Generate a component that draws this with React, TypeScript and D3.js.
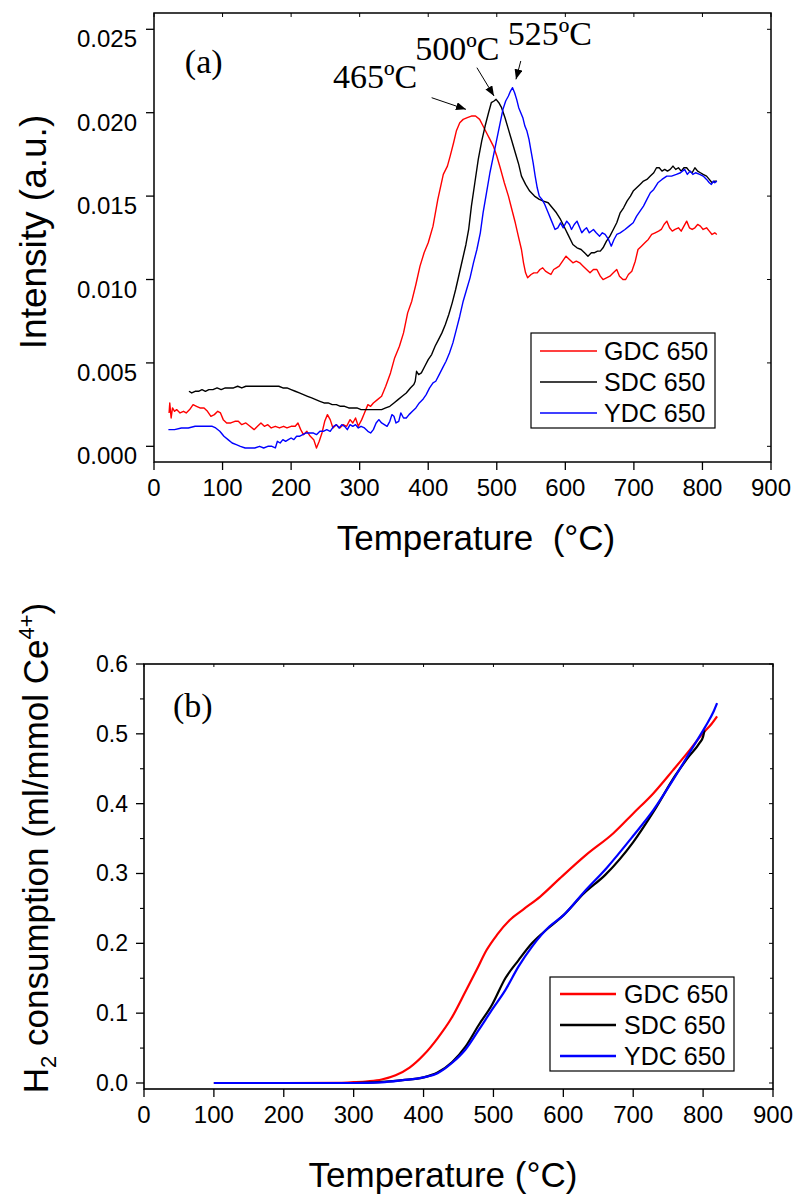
import React from "react";
import * as d3 from "d3";

// ---- data: (a) TPR intensity ----
const gdcTpr: [number, number][] = [
  [22,0.0020],[23,0.0026],[25,0.0017],[27,0.0023],[30,0.0021],[33,0.0022],[38,0.0020],[43,0.0021],[47,0.0020],[52,0.0022],[57,0.0025],[62,0.0024],[67,0.0023],[73,0.0023],[78,0.0021],[83,0.0018],[88,0.0019],[93,0.0021],[97,0.0020],[101,0.0016],[106,0.0014],[112,0.0014],[118,0.0015],[123,0.0015],[128,0.0013],[134,0.0014],[140,0.0012],[146,0.0010],[151,0.0012],[156,0.0014],[161,0.0012],[166,0.0013],[171,0.0011],[177,0.0012],[183,0.0011],[189,0.0012],[194,0.0011],[200,0.0012],[206,0.0012],[210,0.0014],[214,0.0010],[218,0.0007],[223,0.0009],[228,0.0006],[233,0.0004],[237,-0.0001],[241,0.0003],[245,0.0008],[249,0.0015],[253,0.0019],[257,0.0016],[261,0.0011],[266,0.0013],[271,0.0011],[276,0.0013],[281,0.0012],[286,0.0016],[290,0.0014],[294,0.0017],[298,0.0012],[303,0.0016],[307,0.0020],[312,0.0025],[316,0.0024],[320,0.0026],[326,0.0028],[332,0.0030],[338,0.0036],[345,0.0044],[351,0.0053],[358,0.0060],[364,0.0068],[370,0.0080],[376,0.0087],[382,0.0097],[388,0.0108],[394,0.0116],[400,0.0122],[407,0.0132],[414,0.0148],[422,0.0163],[428,0.0168],[432,0.0174],[437,0.0182],[441,0.0189],[446,0.0194],[451,0.0196],[457,0.0197],[463,0.0198],[469,0.0198],[475,0.0196],[480,0.0192],[485,0.0188],[490,0.0184],[495,0.0180],[500,0.0174],[505,0.0167],[511,0.0158],[517,0.0150],[522,0.0142],[527,0.0134],[532,0.0125],[536,0.0118],[539,0.0110],[542,0.0104],[545,0.0101],[550,0.0103],[554,0.0104],[559,0.0104],[563,0.0106],[567,0.0107],[571,0.0105],[575,0.0104],[579,0.0103],[583,0.0106],[587,0.0107],[591,0.0108],[596,0.0111],[601,0.0114],[606,0.0112],[611,0.0110],[616,0.0111],[621,0.0110],[626,0.0108],[631,0.0106],[636,0.0104],[641,0.0106],[646,0.0106],[651,0.0102],[655,0.0100],[660,0.0101],[665,0.0102],[670,0.0104],[675,0.0106],[679,0.0102],[684,0.0100],[688,0.0100],[692,0.0103],[697,0.0105],[702,0.0111],[706,0.0118],[711,0.0120],[716,0.0122],[721,0.0124],[726,0.0127],[731,0.0128],[736,0.0129],[740,0.0130],[744,0.0133],[748,0.0135],[752,0.0131],[756,0.0129],[760,0.0130],[765,0.0131],[769,0.0129],[773,0.0132],[777,0.0135],[781,0.0131],[785,0.0130],[789,0.0131],[793,0.0133],[797,0.0132],[801,0.0130],[806,0.0131],[810,0.0129],[814,0.0127],[818,0.0128],[821,0.0127],
];

const sdcTpr: [number, number][] = [
  [51,0.0033],[55,0.0032],[60,0.0033],[65,0.0033],[70,0.0034],[75,0.0033],[80,0.0034],[86,0.0034],[92,0.0035],[98,0.0034],[104,0.0035],[110,0.0035],[116,0.0035],[122,0.0036],[128,0.0035],[134,0.0036],[140,0.0036],[146,0.0036],[152,0.0036],[158,0.0036],[164,0.0036],[170,0.0036],[176,0.0036],[182,0.0036],[188,0.0035],[194,0.0035],[200,0.0034],[206,0.0033],[212,0.0032],[218,0.0031],[224,0.0030],[230,0.0029],[236,0.0028],[242,0.0027],[248,0.0026],[254,0.0026],[260,0.0025],[266,0.0025],[272,0.0024],[278,0.0024],[284,0.0023],[290,0.0023],[296,0.0023],[302,0.0022],[308,0.0022],[314,0.0022],[320,0.0022],[326,0.0022],[332,0.0022],[338,0.0023],[344,0.0024],[350,0.0026],[356,0.0028],[362,0.0030],[368,0.0032],[374,0.0035],[379,0.0037],[381,0.0039],[383,0.0045],[386,0.0043],[390,0.0044],[395,0.0048],[400,0.0052],[405,0.0055],[410,0.0060],[415,0.0064],[420,0.0068],[425,0.0073],[430,0.0079],[435,0.0086],[440,0.0094],[445,0.0103],[450,0.0112],[455,0.0121],[459,0.0130],[463,0.0144],[468,0.0158],[473,0.0172],[478,0.0183],[483,0.0192],[488,0.0200],[492,0.0206],[496,0.0207],[499,0.0208],[503,0.0206],[507,0.0203],[512,0.0197],[517,0.0190],[522,0.0183],[527,0.0176],[532,0.0169],[536,0.0162],[542,0.0157],[548,0.0153],[555,0.0150],[562,0.0148],[568,0.0147],[575,0.0146],[581,0.0143],[587,0.0140],[593,0.0136],[599,0.0131],[605,0.0126],[611,0.0121],[617,0.0119],[623,0.0118],[628,0.0116],[633,0.0114],[638,0.0116],[642,0.0116],[647,0.0117],[651,0.0117],[655,0.0119],[660,0.0123],[665,0.0126],[670,0.0130],[675,0.0134],[680,0.0140],[685,0.0143],[690,0.0147],[695,0.0150],[699,0.0153],[704,0.0155],[709,0.0157],[714,0.0159],[719,0.0160],[724,0.0162],[729,0.0164],[733,0.0167],[737,0.0167],[741,0.0165],[745,0.0166],[749,0.0165],[753,0.0166],[757,0.0168],[761,0.0166],[765,0.0167],[769,0.0165],[773,0.0167],[777,0.0167],[781,0.0165],[785,0.0164],[789,0.0167],[793,0.0165],[797,0.0164],[801,0.0163],[806,0.0162],[810,0.0160],[814,0.0158],[818,0.0159],[821,0.0159],
];

const ydcTpr: [number, number][] = [
  [21,0.0010],[30,0.0010],[40,0.0011],[50,0.0011],[60,0.0012],[70,0.0012],[79,0.0012],[85,0.0012],[90,0.0011],[96,0.0009],[102,0.0006],[108,0.0004],[114,0.0002],[120,0.0001],[126,0.0000],[133,-0.0001],[140,-0.0001],[147,-0.0001],[154,0.0000],[160,-0.0001],[166,0.0000],[172,0.0000],[177,-0.0001],[180,0.0003],[184,0.0002],[188,0.0004],[192,0.0003],[196,0.0004],[200,0.0005],[204,0.0004],[208,0.0006],[212,0.0006],[217,0.0007],[222,0.0008],[227,0.0008],[232,0.0008],[237,0.0007],[242,0.0009],[247,0.0009],[252,0.0010],[257,0.0009],[262,0.0012],[266,0.0013],[270,0.0011],[274,0.0013],[278,0.0012],[282,0.0010],[286,0.0013],[290,0.0012],[294,0.0013],[298,0.0011],[302,0.0012],[307,0.0011],[312,0.0009],[316,0.0008],[320,0.0010],[324,0.0014],[328,0.0016],[332,0.0014],[336,0.0013],[340,0.0012],[344,0.0015],[347,0.0019],[350,0.0018],[353,0.0014],[357,0.0015],[360,0.0020],[364,0.0017],[368,0.0017],[372,0.0019],[377,0.0021],[382,0.0023],[387,0.0026],[392,0.0028],[397,0.0031],[402,0.0035],[407,0.0038],[411,0.0039],[416,0.0043],[421,0.0047],[426,0.0051],[431,0.0056],[436,0.0062],[441,0.0070],[446,0.0078],[451,0.0087],[456,0.0094],[461,0.0101],[466,0.0110],[471,0.0118],[476,0.0128],[480,0.0140],[485,0.0152],[490,0.0164],[495,0.0174],[500,0.0184],[505,0.0194],[509,0.0202],[513,0.0207],[517,0.0210],[520,0.0213],[523,0.0215],[526,0.0212],[529,0.0208],[532,0.0203],[535,0.0200],[538,0.0197],[541,0.0192],[544,0.0189],[547,0.0184],[550,0.0177],[553,0.0170],[556,0.0162],[559,0.0155],[562,0.0150],[566,0.0148],[570,0.0145],[575,0.0140],[580,0.0135],[585,0.0130],[589,0.0131],[593,0.0134],[597,0.0131],[602,0.0135],[606,0.0133],[609,0.0130],[613,0.0133],[617,0.0135],[621,0.0131],[624,0.0128],[628,0.0130],[631,0.0131],[635,0.0128],[641,0.0130],[645,0.0128],[650,0.0126],[654,0.0128],[658,0.0127],[663,0.0124],[667,0.0120],[671,0.0124],[675,0.0127],[680,0.0128],[687,0.0130],[693,0.0132],[699,0.0134],[704,0.0138],[709,0.0141],[714,0.0144],[719,0.0148],[724,0.0152],[729,0.0154],[735,0.0158],[741,0.0160],[748,0.0162],[755,0.0162],[762,0.0163],[768,0.0164],[774,0.0166],[778,0.0163],[782,0.0165],[786,0.0163],[790,0.0164],[796,0.0163],[801,0.0162],[806,0.0160],[810,0.0158],[813,0.0157],[816,0.0159],[818,0.0158],[821,0.0159],
];

// ---- data: (b) cumulative H2 consumption ----
const gdcH2: [number, number][] = [
  [100,0],[200,0],[280,0.0003],[300,0.0012],[320,0.0025],[340,0.005],[360,0.011],[380,0.022],[400,0.040],[420,0.064],[440,0.093],[460,0.131],[476,0.162],[490,0.190],[505,0.212],[523,0.233],[542,0.248],[567,0.267],[595,0.293],[633,0.327],[672,0.358],[700,0.386],[729,0.415],[757,0.448],[781,0.477],[800,0.501],[812,0.514],[820,0.525],
];
const sdcH2: [number, number][] = [
  [100,0],[200,0],[300,0],[340,0.0015],[370,0.004],[400,0.008],[420,0.015],[441,0.030],[460,0.052],[479,0.083],[498,0.112],[517,0.150],[536,0.176],[555,0.200],[580,0.223],[600,0.240],[630,0.272],[660,0.298],[700,0.345],[730,0.390],[760,0.440],[780,0.468],[795,0.487],[800,0.496],[802,0.505],
];
const ydcH2: [number, number][] = [
  [100,0],[200,0],[300,0],[340,0.001],[370,0.004],[400,0.008],[420,0.014],[441,0.029],[460,0.048],[479,0.076],[498,0.105],[517,0.133],[536,0.167],[555,0.195],[580,0.224],[600,0.240],[630,0.274],[662,0.308],[700,0.354],[729,0.391],[757,0.434],[786,0.482],[803,0.510],[815,0.532],[820,0.544],
];

const sampleNames = ["GDC 650", "SDC 650", "YDC 650"];
const sampleColors = ["#ff0000", "#000000", "#0000ff"];
const tempTicks = d3.range(0, 901, 100);
const intensityTicks = [0, 0.005, 0.01, 0.015, 0.02, 0.025];
const h2Ticks = [0, 0.1, 0.2, 0.3, 0.4, 0.5, 0.6];
const h2Minor = [0.05, 0.15, 0.25, 0.35, 0.45, 0.55];

// peak labels: [text, textT, textY, arrowFromT, arrowFromY, arrowToT, arrowToY]
const peakNotes: [string, number, number, number, number, number, number][] = [
  ["465ºC", 261, 0.0215, 405, 0.0209, 455, 0.0202],
  ["500ºC", 381, 0.02317, 471, 0.0227, 496, 0.0210],
  ["525ºC", 516, 0.02406, 535, 0.0231, 528, 0.0220],
];

const SANS = "'Liberation Sans', Arial, sans-serif";
const SERIF = "'Liberation Serif', 'Times New Roman', serif";

const App = () => {
  // panel (a)
  const xa = d3.scaleLinear().domain([0, 900]).range([154, 771]);
  const ya = d3.scaleLinear().domain([-0.00094, 0.025977]).range([462, 13]);
  // panel (b)
  const xb = d3.scaleLinear().domain([0, 900]).range([144, 773]);
  const yb = d3.scaleLinear().domain([-0.0086, 0.6]).range([1089, 664]);

  const lineA = d3
    .line<[number, number]>()
    .x((d) => xa(d[0]))
    .y((d) => ya(d[1]));
  const lineB = d3
    .line<[number, number]>()
    .x((d) => xb(d[0]))
    .y((d) => yb(d[1]))
    .curve(d3.curveMonotoneX);

  const tpr = [gdcTpr, sdcTpr, ydcTpr];
  const h2 = [gdcH2, sdcH2, ydcH2];

  const [a0, a1] = xa.range();
  const [ab, at] = ya.range();
  const [b0, b1] = xb.range();
  const [bb, bt] = yb.range();

  return (
    <svg
      width={795}
      height={1196}
      style={{ position: "absolute", left: 0, top: 0, background: "#fff" }}
    >
      <defs>
        <marker
          id="arr"
          markerUnits="userSpaceOnUse"
          markerWidth={10}
          markerHeight={8}
          refX={10}
          refY={4}
          orient="auto"
        >
          <path d="M0,0 L10,4 L0,8 z" fill="#000" />
        </marker>
      </defs>

      {/* ===== panel (a) ===== */}
      <g>
        {tpr.map((d, i) => (
          <path
            key={i}
            d={lineA(d) || ""}
            fill="none"
            stroke={sampleColors[i]}
            strokeWidth={1.4}
            strokeLinejoin="round"
          />
        ))}
        <rect
          x={a0}
          y={at}
          width={a1 - a0}
          height={ab - at}
          fill="none"
          stroke="#000"
          strokeWidth={1.5}
        />
        {tempTicks.map((t) => (
          <g key={t}>
            <line x1={xa(t)} x2={xa(t)} y1={ab} y2={ab + 8} stroke="#000" strokeWidth={1.3} />
            <line x1={xa(t)} x2={xa(t)} y1={at} y2={at + 4} stroke="#000" strokeWidth={1} />
            <text
              x={xa(t)}
              y={ab + 34}
              textAnchor="middle"
              fontFamily={SANS}
              fontSize={24}
            >
              {t}
            </text>
          </g>
        ))}
        {intensityTicks.map((v) => (
          <g key={v}>
            <line x1={a0 - 8} x2={a0} y1={ya(v)} y2={ya(v)} stroke="#000" strokeWidth={1.3} />
            <line x1={a1 - 4} x2={a1} y1={ya(v)} y2={ya(v)} stroke="#000" strokeWidth={1} />
            <text
              x={137}
              y={ya(v) + 18}
              textAnchor="end"
              fontFamily={SANS}
              fontSize={24}
            >
              {d3.format(".3f")(v)}
            </text>
          </g>
        ))}
        <text
          x={476}
          y={550}
          textAnchor="middle"
          fontFamily={SANS}
          fontSize={35}
          style={{ whiteSpace: "pre" }}
        >
          {"Temperature  (°C)"}
        </text>
        <text
          transform="translate(46,232) rotate(-90)"
          textAnchor="middle"
          fontFamily={SANS}
          fontSize={37}
        >
          Intensity (a.u.)
        </text>
        <text x={xa(45)} y={ya(0.02238)} fontFamily={SERIF} fontSize={34}>
          (a)
        </text>
        {peakNotes.map(([label, tx, ty, fx, fy, ex, ey]) => (
          <g key={label}>
            <text x={xa(tx)} y={ya(ty)} fontFamily={SERIF} fontSize={34}>
              {label}
            </text>
            <line
              x1={xa(fx)}
              y1={ya(fy)}
              x2={xa(ex)}
              y2={ya(ey)}
              stroke="#000"
              strokeWidth={1}
              markerEnd="url(#arr)"
            />
          </g>
        ))}
        {/* legend (a) */}
        <rect x={531} y={333} width={184} height={95} fill="#fff" stroke="#000" strokeWidth={1.2} />
        {sampleNames.map((n, i) => (
          <g key={n}>
            <line
              x1={540}
              x2={597}
              y1={351 + i * 31}
              y2={351 + i * 31}
              stroke={sampleColors[i]}
              strokeWidth={1.4}
            />
            <text x={604} y={360 + i * 31} fontFamily={SANS} fontSize={25}>
              {n}
            </text>
          </g>
        ))}
      </g>

      {/* ===== panel (b) ===== */}
      <g>
        {h2.map((d, i) => (
          <path
            key={i}
            d={lineB(d) || ""}
            fill="none"
            stroke={sampleColors[i]}
            strokeWidth={2.2}
            strokeLinejoin="round"
          />
        ))}
        <rect
          x={b0}
          y={bt}
          width={b1 - b0}
          height={bb - bt}
          fill="none"
          stroke="#000"
          strokeWidth={1.6}
        />
        {tempTicks.map((t) => (
          <g key={t}>
            <line x1={xb(t)} x2={xb(t)} y1={bb} y2={bb + 8} stroke="#000" strokeWidth={1.3} />
            <line x1={xb(t)} x2={xb(t)} y1={bt} y2={bt + 3} stroke="#000" strokeWidth={1} />
            <text
              x={xb(t)}
              y={1123}
              textAnchor="middle"
              fontFamily={SANS}
              fontSize={24}
            >
              {t}
            </text>
          </g>
        ))}
        {h2Ticks.map((v) => (
          <g key={v}>
            <line x1={b0 - 8} x2={b0} y1={yb(v)} y2={yb(v)} stroke="#000" strokeWidth={1.3} />
            <line x1={b1 - 4} x2={b1} y1={yb(v)} y2={yb(v)} stroke="#000" strokeWidth={1} />
            <text
              x={128}
              y={yb(v) + 8}
              textAnchor="end"
              fontFamily={SANS}
              fontSize={23}
            >
              {d3.format(".1f")(v)}
            </text>
          </g>
        ))}
        {h2Minor.map((v) => (
          <g key={v}>
            <line x1={b0 - 4} x2={b0} y1={yb(v)} y2={yb(v)} stroke="#000" strokeWidth={1.1} />
            <line x1={b1 - 3} x2={b1} y1={yb(v)} y2={yb(v)} stroke="#000" strokeWidth={1} />
          </g>
        ))}
        <text x={443} y={1187} textAnchor="middle" fontFamily={SANS} fontSize={35}>
          Temperature (°C)
        </text>
        <text
          transform="translate(48,848) rotate(-90)"
          textAnchor="middle"
          fontFamily={SANS}
          fontSize={35}
        >
          H
          <tspan dy={8} fontSize={22}>
            2
          </tspan>
          <tspan dy={-8}> consumption (ml/mmol Ce</tspan>
          <tspan dy={-14} fontSize={22}>
            4+
          </tspan>
          <tspan dy={14}>)</tspan>
        </text>
        <text x={xb(41.5)} y={yb(0.524)} fontFamily={SERIF} fontSize={34}>
          (b)
        </text>
        {/* legend (b) */}
        <rect x={550} y={977} width={184} height={94} fill="#fff" stroke="#000" strokeWidth={1.2} />
        {sampleNames.map((n, i) => (
          <g key={n}>
            <line
              x1={560}
              x2={616}
              y1={994 + i * 31}
              y2={994 + i * 31}
              stroke={sampleColors[i]}
              strokeWidth={2.6}
            />
            <text x={624} y={1003 + i * 31} fontFamily={SANS} fontSize={25}>
              {n}
            </text>
          </g>
        ))}
      </g>
    </svg>
  );
};

export default App;
